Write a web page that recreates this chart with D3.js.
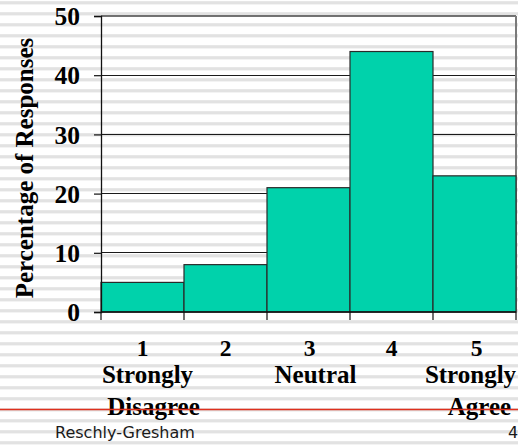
<!DOCTYPE html>
<html>
<head>
<meta charset="utf-8">
<script src="https://cdn.jsdelivr.net/npm/d3@7"></script>
<style>
  html, body { margin: 0; padding: 0; background: #ffffff; }
  svg { display: block; }
</style>
</head>
<body>
<svg id="chart" width="518" height="445"></svg>
<script>
// Response scale and share of respondents choosing each point
const categories = ["1", "2", "3", "4", "5"];
const anchorWords = [["Strongly", "Disagree"], [], ["Neutral"], [], ["Strongly", "Agree"]];
const percentages = [5, 8, 21, 44, 23];
const yTicks = [0, 10, 20, 30, 40, 50];
const footerText = "Reschly-Gresham";
const pageNumber = "4";

const W = 518, H = 445;
const plot = { left: 101, right: 516, top: 16, bottom: 312 };
const serif = "'Liberation Serif', 'Times New Roman', serif";

const svg = d3.select("#chart");

// Ruled-paper background
const stripes = svg.append("g");
for (let y = 1.2; y < H; y += 11) {
  stripes.append("rect").attr("x", 0).attr("y", y).attr("width", W).attr("height", 3.2)
    .attr("fill", "#e2e2e2");
}

const x = d3.scaleBand().domain(categories).range([plot.left, plot.right]).padding(0);
const y = d3.scaleLinear().domain([0, 50]).range([plot.bottom, plot.top]);

// Horizontal gridlines
svg.append("g").selectAll("line")
  .data(yTicks.filter(t => t > 0 && t < 50))
  .join("line")
  .attr("x1", plot.left).attr("x2", plot.right)
  .attr("y1", d => y(d)).attr("y2", d => y(d))
  .attr("stroke", "#1a1a1a").attr("stroke-width", 1).attr("shape-rendering", "crispEdges");

// Top and right frame
svg.append("line").attr("x1", plot.left).attr("x2", plot.right)
  .attr("y1", y(50)).attr("y2", y(50)).attr("stroke", "#444").attr("stroke-width", 1.3);
svg.append("line").attr("x1", plot.right).attr("x2", plot.right)
  .attr("y1", y(50)).attr("y2", plot.bottom).attr("stroke", "#7a7a7a").attr("stroke-width", 2);

// Bars
svg.append("g").selectAll("rect")
  .data(percentages)
  .join("rect")
  .attr("x", (d, i) => x(categories[i]))
  .attr("y", d => y(d))
  .attr("width", x.bandwidth())
  .attr("height", d => y(0) - y(d))
  .attr("fill", "#00d2ab")
  .attr("stroke", "#2a2a2a").attr("stroke-width", 1.2);

// Y axis
const yAxis = svg.append("g")
  .attr("transform", `translate(${plot.left},0)`)
  .call(d3.axisLeft(y).tickValues(yTicks).tickSize(7).tickPadding(14).tickFormat(d3.format("d")));
yAxis.select(".domain").attr("stroke", "#111").attr("stroke-width", 1.3);
yAxis.selectAll(".tick line").attr("stroke", "#111").attr("stroke-width", 1.2);
yAxis.selectAll(".tick text")
  .attr("font-family", serif).attr("font-weight", "bold").attr("font-size", 25.5)
  .attr("fill", "#000").attr("dy", "0.34em");

// X axis baseline and band-edge ticks
svg.append("line").attr("x1", plot.left).attr("x2", plot.right)
  .attr("y1", plot.bottom).attr("y2", plot.bottom).attr("stroke", "#111").attr("stroke-width", 1.3);
const edges = categories.map(c => x(c)).concat([x(categories[categories.length - 1]) + x.bandwidth()]);
svg.append("g").selectAll("line")
  .data(edges)
  .join("line")
  .attr("x1", d => d).attr("x2", d => d)
  .attr("y1", plot.bottom).attr("y2", plot.bottom + 8)
  .attr("stroke", "#111").attr("stroke-width", 1.2);

// Category labels: scale point, then anchor words beneath
const lineBaselines = [44, 71, 103];
const lineSizes = [23.5, 25, 25];
const lineNudge = { "1": [0, 5, 11], "3": [1, 7], "5": [2, -4, 5] };
const labels = svg.append("g")
  .attr("font-family", serif).attr("font-weight", "bold")
  .attr("fill", "#000").attr("text-anchor", "middle");
categories.forEach((c, i) => {
  const lines = [c].concat(anchorWords[i]);
  const cx = x(c) + x.bandwidth() / 2;
  lines.forEach((t, j) => {
    const nudge = (lineNudge[c] || [])[j] || 0;
    labels.append("text")
      .attr("x", cx + nudge)
      .attr("y", plot.bottom + lineBaselines[j])
      .attr("font-size", lineSizes[j])
      .text(t);
  });
});

// Y axis title
svg.append("text")
  .attr("transform", `translate(33,${(plot.top + plot.bottom) / 2 + 4}) rotate(-90)`)
  .attr("text-anchor", "middle")
  .attr("font-family", serif).attr("font-weight", "bold").attr("font-size", 25)
  .attr("fill", "#000")
  .text("Percentage of Responses");

// Slide rule line and footer
svg.append("line").attr("x1", 0).attr("x2", W).attr("y1", 409.5).attr("y2", 409.5)
  .attr("stroke", "#e0301e").attr("stroke-width", 1.6);
svg.append("text").attr("x", 55).attr("y", 438)
  .attr("font-family", "'DejaVu Sans', Verdana, sans-serif").attr("font-size", 16)
  .attr("fill", "#1a1a1a").text(footerText);
svg.append("text").attr("x", 508).attr("y", 438)
  .attr("font-family", "'DejaVu Sans', Verdana, sans-serif").attr("font-size", 16)
  .attr("fill", "#1a1a1a").text(pageNumber);
</script>
</body>
</html>
